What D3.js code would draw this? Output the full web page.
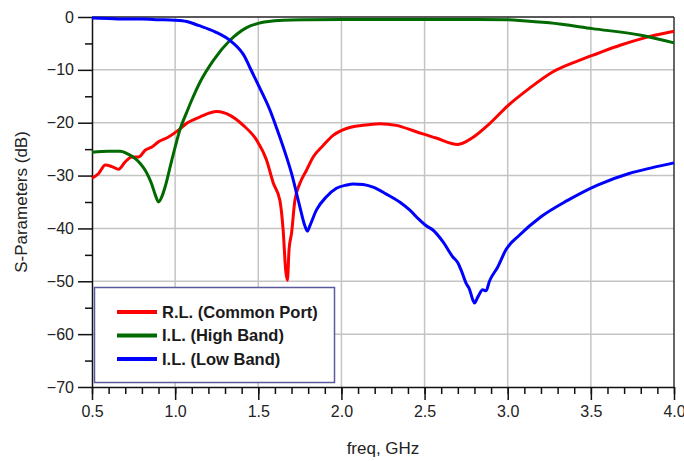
<!DOCTYPE html>
<html>
<head>
<meta charset="utf-8">
<script src="https://cdn.jsdelivr.net/npm/d3@7"></script>
<style>
    body { margin: 0; background: #fff; }
    svg { display: block; }
    .grid line { stroke: #c4c4c4; stroke-width: 1.5; }
    .axis text { font-family: "Liberation Sans", Arial, sans-serif; font-size: 16px; fill: #222; }
    .axis path, .axis line { stroke: #111; stroke-width: 1.5; }
    .title { font-family: "Liberation Sans", Arial, sans-serif; font-size: 17px; fill: #222; }
    .legend text { font-family: "Liberation Sans", Arial, sans-serif; font-size: 16.5px; font-weight: bold; fill: #1a1a1a; }
</style>
</head>
<body>
<div id="chart"></div>
<script>
// values
const rlFreq = [0.50, 0.54, 0.58, 0.62, 0.66, 0.70, 0.74, 0.78, 0.82, 0.86, 0.90, 0.96, 1.02, 1.07, 1.15, 1.25, 1.33, 1.41, 1.49, 1.55, 1.59, 1.63, 1.65, 1.665, 1.675, 1.685, 1.70, 1.72, 1.75, 1.79, 1.83, 1.89, 1.95, 2.03, 2.13, 2.23, 2.33, 2.45, 2.57, 2.70, 2.79, 2.89, 3.00, 3.13, 3.27, 3.43, 3.54, 3.68, 3.84, 4.00];
const rlDb = [-30.5, -29.6, -28.0, -28.3, -28.8, -27.4, -26.5, -26.5, -25.2, -24.6, -23.6, -22.7, -21.4, -20.1, -18.9, -17.9, -18.6, -20.5, -23.3, -27.1, -31.4, -34.7, -40.5, -48.0, -49.8, -44.0, -40.9, -34.7, -31.5, -29.0, -26.5, -24.3, -22.4, -21.1, -20.5, -20.2, -20.5, -21.7, -22.9, -24.1, -22.8, -20.2, -16.8, -13.5, -10.4, -8.2, -6.9, -5.3, -3.8, -2.7];

const hbFreq = [0.50, 0.60, 0.67, 0.72, 0.76, 0.79, 0.82, 0.84, 0.86, 0.88, 0.90, 0.92, 0.94, 0.975, 1.00, 1.03, 1.07, 1.10, 1.15, 1.23, 1.33, 1.43, 1.50, 1.55, 1.65, 1.80, 2.00, 2.50, 3.00, 3.05, 3.25, 3.51, 3.81, 4.00];
const hbDb = [-25.6, -25.4, -25.4, -26.0, -26.8, -27.7, -29.0, -30.2, -31.7, -33.6, -35.0, -34.0, -32.1, -27.7, -24.6, -21.2, -18.0, -15.7, -12.3, -8.2, -4.4, -2.0, -1.2, -0.9, -0.6, -0.5, -0.45, -0.45, -0.5, -0.6, -1.1, -2.2, -3.5, -4.9];

const lbFreq = [0.50, 0.60, 0.70, 0.80, 0.90, 1.00, 1.07, 1.14, 1.24, 1.34, 1.42, 1.45, 1.51, 1.57, 1.61, 1.65, 1.70, 1.75, 1.78, 1.795, 1.81, 1.85, 1.91, 1.97, 2.03, 2.07, 2.13, 2.19, 2.27, 2.35, 2.41, 2.47, 2.51, 2.55, 2.61, 2.67, 2.70, 2.72, 2.75, 2.77, 2.79, 2.80, 2.82, 2.85, 2.87, 2.89, 2.94, 2.99, 3.07, 3.20, 3.36, 3.54, 3.73, 3.87, 4.00];
const lbDb = [-0.2, -0.3, -0.4, -0.4, -0.5, -0.6, -0.85, -1.6, -2.8, -4.7, -7.6, -9.6, -13.5, -17.6, -21.0, -24.6, -29.6, -35.9, -39.5, -40.5, -39.5, -36.5, -34.0, -32.4, -31.8, -31.6, -31.7, -32.2, -33.5, -35.0, -36.5, -38.4, -39.5, -40.3, -42.5, -45.4, -46.5, -47.9, -50.4, -51.5, -53.5, -54.1, -53.0, -51.6, -51.8, -50.0, -47.3, -44.0, -41.3, -37.8, -34.7, -31.8, -29.6, -28.5, -27.6];

const seriesNames = ['R.L. (Common Port)', 'I.L. (High Band)', 'I.L. (Low Band)'];
const seriesColors = ['#ff0000', '#006a00', '#0000ff'];

const xTicks = [0.5, 1.0, 1.5, 2.0, 2.5, 3.0, 3.5, 4.0];
const yTicks = [0, -10, -20, -30, -40, -50, -60, -70];

const width = 684, height = 461;
const margin = {top: 17, right: 10, bottom: 74, left: 92};
const plotW = 674 - margin.left;
const plotH = 387 - margin.top;

const svg = d3.select('#chart').append('svg')
    .attr('width', width)
    .attr('height', height);

const x = d3.scaleLinear().domain([0.5, 4.0]).range([0, plotW]);
const y = d3.scaleLinear().domain([0, -70]).range([0, plotH]);

const g = svg.append('g').attr('transform', `translate(${margin.left},${margin.top})`);

// grid
g.append('g').attr('class', 'grid')
    .selectAll('line.v').data(xTicks.slice(1, -1)).enter().append('line')
    .attr('x1', d => x(d)).attr('x2', d => x(d))
    .attr('y1', 0).attr('y2', plotH);
g.append('g').attr('class', 'grid')
    .selectAll('line.h').data(yTicks.slice(1, -1)).enter().append('line')
    .attr('x1', 0).attr('x2', plotW)
    .attr('y1', d => y(d)).attr('y2', d => y(d));

// frame top / right
g.append('line').attr('x1', 0).attr('x2', plotW).attr('y1', 0).attr('y2', 0)
    .attr('stroke', '#222').attr('stroke-width', 1.5);
g.append('line').attr('x1', plotW).attr('x2', plotW).attr('y1', 0).attr('y2', plotH)
    .attr('stroke', '#333').attr('stroke-width', 1.5);

// axes: minor then major
const xMinor = d3.range(5, 41).map(v => v / 10);
g.append('g').attr('class', 'axis')
    .attr('transform', `translate(0,${plotH})`)
    .call(d3.axisBottom(x).tickValues(xMinor).tickSize(7).tickFormat(''))
    .call(a => a.select('.domain').remove());
g.append('g').attr('class', 'axis')
    .attr('transform', `translate(0,${plotH})`)
    .call(d3.axisBottom(x).tickValues(xTicks).tickSize(13).tickSizeOuter(0).tickPadding(6).tickFormat(d3.format('.1f')));

const yMinor = d3.range(-65, 0, 10);
g.append('g').attr('class', 'axis')
    .call(d3.axisLeft(y).tickValues(yMinor).tickSize(7).tickFormat(''))
    .call(a => a.select('.domain').remove());
g.append('g').attr('class', 'axis')
    .call(d3.axisLeft(y).tickValues(yTicks).tickSize(14).tickSizeOuter(0).tickPadding(4).tickFormat(d3.format('d')));

// curves
svg.append('clipPath').attr('id', 'clip')
    .append('rect').attr('x', -2).attr('y', -2).attr('width', plotW + 3).attr('height', plotH + 3);

const line = d3.line()
    .x(d => x(d[0]))
    .y(d => y(d[1]))
    .curve(d3.curveMonotoneX);

const series = [
    d3.zip(rlFreq, rlDb),
    d3.zip(hbFreq, hbDb),
    d3.zip(lbFreq, lbDb)
];

g.append('g').attr('clip-path', 'url(#clip)')
    .selectAll('path').data(series).enter().append('path')
    .attr('d', line)
    .attr('fill', 'none')
    .attr('stroke', (d, i) => seriesColors[i])
    .attr('stroke-width', 3)
    .attr('stroke-linejoin', 'round');

// legend
const legend = svg.append('g').attr('class', 'legend');
legend.append('rect')
    .attr('x', 94.5).attr('y', 287.5).attr('width', 240).attr('height', 95)
    .attr('fill', '#fff').attr('stroke', '#5a5a9c').attr('stroke-width', 1.5);
const items = legend.selectAll('g.item').data(seriesNames).enter().append('g')
    .attr('transform', (d, i) => `translate(117,${312 + i * 23.5})`);
items.append('line')
    .attr('x1', 0).attr('x2', 40).attr('y1', 0).attr('y2', 0)
    .attr('stroke', (d, i) => seriesColors[i]).attr('stroke-width', 4);
items.append('text')
    .attr('x', 45).attr('dy', '0.36em')
    .text(d => d);

// axis titles
svg.append('text').attr('class', 'title')
    .attr('x', margin.left + plotW / 2).attr('y', 454)
    .attr('text-anchor', 'middle')
    .text('freq, GHz');
svg.append('text').attr('class', 'title')
    .attr('transform', `translate(27,${margin.top + plotH / 2}) rotate(-90)`)
    .attr('text-anchor', 'middle')
    .text('S-Parameters (dB)');
</script>
</body>
</html>
